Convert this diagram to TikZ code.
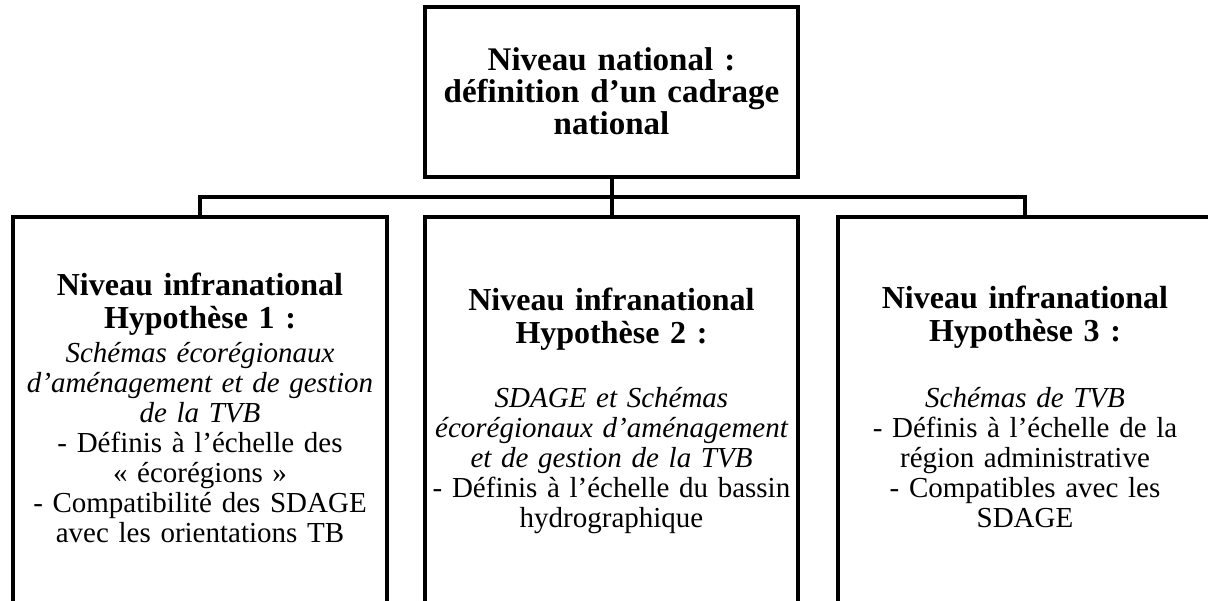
\documentclass[tikz,border=0pt]{standalone}
\usepackage{fontspec}
\setmainfont{Liberation Serif}
\usepackage{tikz}

\begin{document}
\begin{tikzpicture}[x=0.5pt, y=-0.5pt,
  cadre/.style={draw, rectangle, line width=2.2pt, inner sep=0pt},
  titre/.style={anchor=base, text width=190pt, align=center, inner sep=0pt, font=\bfseries\fontsize{16}{16.5}\selectfont},
  corps/.style={anchor=base, text width=190pt, align=center, inner sep=0pt, font=\fontsize{14.5}{15}\selectfont},
  lien/.style={line width=2pt}]
  \useasboundingbox (0,0) rectangle (1208,600);
  \clip (0,0) rectangle (1208,600);

  %Les boites
  \node[cadre, minimum width=186.5pt, minimum height=85pt] (nat) at (611.5,92) {};
  \node[cadre, minimum width=187pt, minimum height=210pt] (h1) at (200,427) {};
  \node[cadre, minimum width=186.5pt, minimum height=210pt] (h2) at (611.5,427) {};
  \node[cadre, minimum width=187pt, minimum height=210pt] (h3) at (1025,427) {};

  %Les textes
  \node[titre, font=\bfseries\fontsize{16.5}{16}\selectfont] (tnat) at (611.5,70) {Niveau national :\\ définition d’un cadrage\\ national};
  \node[titre] (t1) at (200,295) {Niveau infranational\\ Hypothèse 1 :};
  \node[corps] (c1) at (200,362) {{\itshape Schémas écorégionaux\\ d’aménagement et de gestion\\ de la TVB}\\ - Définis à l’échelle des\\ «~écorégions~»\\ - Compatibilité des SDAGE\\ avec les orientations TB};
  \node[titre] (t2) at (611.5,310) {Niveau infranational\\ Hypothèse 2 :};
  \node[corps] (c2) at (611.5,407) {{\itshape SDAGE et Schémas\\ écorégionaux d’aménagement\\ et de gestion de la TVB}\\ - Définis à l’échelle du bassin\\ hydrographique};
  \node[titre] (t3) at (1025,308) {Niveau infranational\\ Hypothèse 3 :};
  \node[corps] (c3) at (1025,407) {{\itshape Schémas de TVB}\\ - Définis à l’échelle de la\\ région administrative\\ - Compatibles avec les\\ SDAGE};

  %Les liens
  \coordinate (bus) at (611.5,197);
  \draw[lien] (nat.south) -- (h2.north);
  \draw[lien] (h1.north) -- (h1.north |- bus) -- (h3.north |- bus) -- (h3.north);
\end{tikzpicture}
\end{document}
